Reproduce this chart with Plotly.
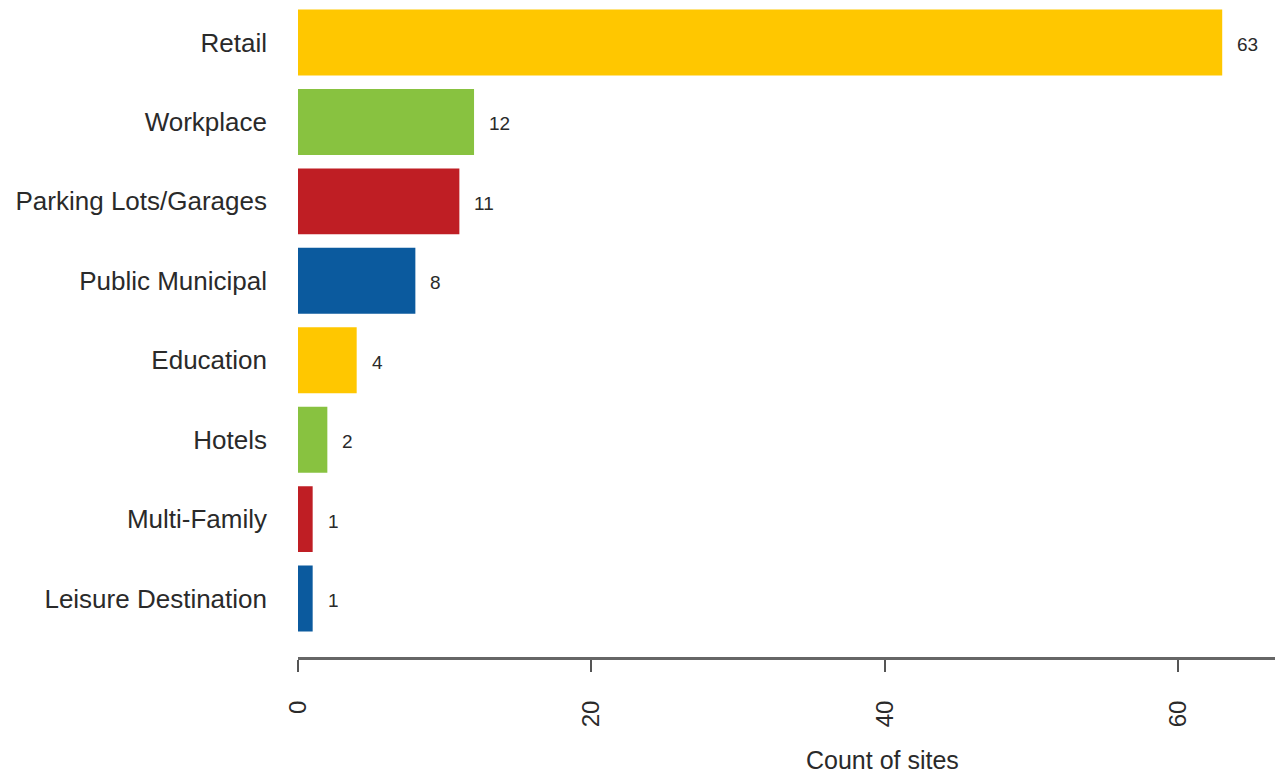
import plotly.graph_objects as go

# Site counts by location type
categories = ["Retail", "Workplace", "Parking Lots/Garages", "Public Municipal",
              "Education", "Hotels", "Multi-Family", "Leisure Destination"]
counts = [63, 12, 11, 8, 4, 2, 1, 1]
bar_colors = ["#FFC700", "#88C240", "#BF1E24", "#0B5A9E",
              "#FFC700", "#88C240", "#BF1E24", "#0B5A9E"]
x_ticks = [0, 20, 40, 60]

FONT = "Liberation Sans, Arial, Helvetica, sans-serif"
TEXT = "#2a2a2a"

fig = go.Figure()
fig.add_trace(go.Bar(
    x=counts,
    y=categories,
    orientation="h",
    marker=dict(color=bar_colors, line=dict(width=0)),
    width=0.83,
    hoverinfo="x+y",
))

# value labels to the right of each bar
for cat, val in zip(categories, counts):
    fig.add_annotation(
        x=val, y=cat, xref="x", yref="y",
        text=str(val), showarrow=False,
        xanchor="left", yanchor="middle", xshift=13, yshift=-2,
        font=dict(family=FONT, size=19, color=TEXT),
    )

# horizontal axis title
fig.add_annotation(
    x=(882 - 298) / (1275 - 298), y=-0.157, xref="paper", yref="paper",
    text="Count of sites", showarrow=False,
    xanchor="center", yanchor="middle",
    font=dict(family=FONT, size=25, color=TEXT),
)

fig.update_layout(
    width=1275, height=777,
    margin=dict(l=298, r=0, t=0, b=120),
    paper_bgcolor="white", plot_bgcolor="white",
    showlegend=False,
    font=dict(family=FONT, color=TEXT),
    xaxis=dict(
        range=[0, (1275 - 298) / 14.67],
        tickmode="array", tickvals=x_ticks, ticktext=[str(t) for t in x_ticks],
        tickangle=-90,
        ticks="outside", ticklen=12, tickwidth=2, tickcolor="#555555",
        showline=True, linecolor="#666666", linewidth=3,
        showgrid=False, zeroline=False,
        tickfont=dict(family=FONT, size=24, color=TEXT),
        ticklabelstandoff=19,
    ),
    yaxis=dict(
        type="category",
        categoryorder="array", categoryarray=categories,
        range=[7.736, -0.535],
        showline=False, showgrid=False, zeroline=False,
        ticks="",
        tickfont=dict(family=FONT, size=26, color=TEXT),
        ticklabelstandoff=30,
    ),
)

fig.write_html("out.html")
